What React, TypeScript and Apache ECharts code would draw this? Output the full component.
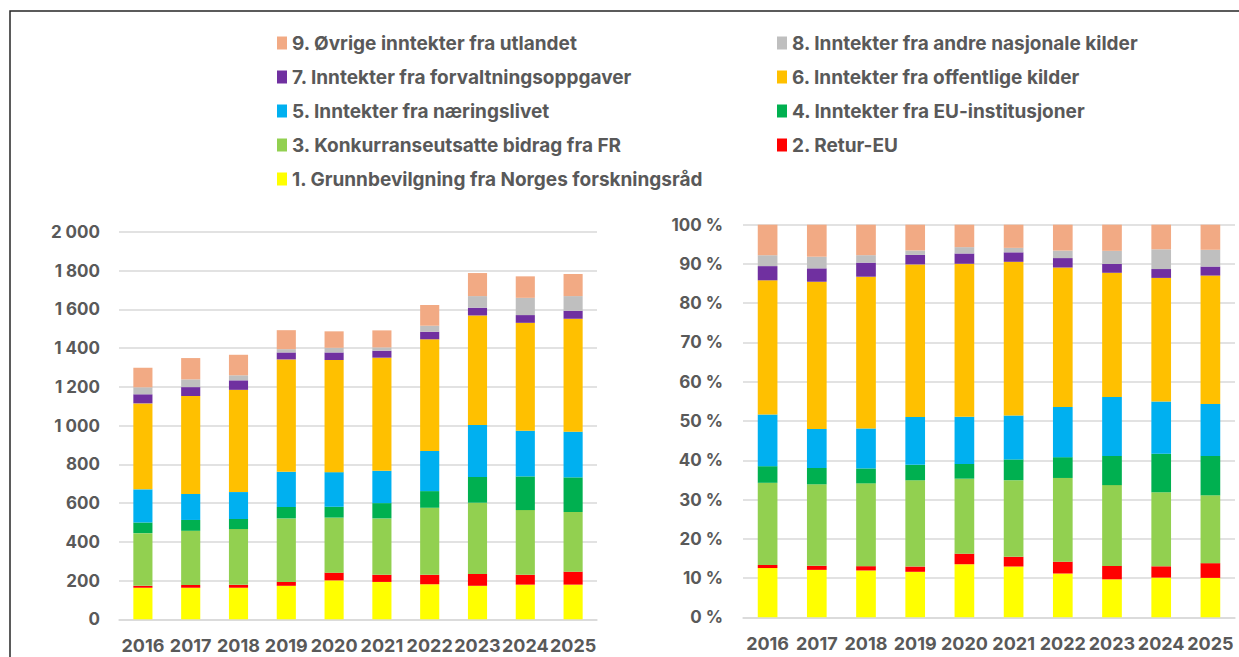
import React, { useEffect, useRef } from "react";
import * as echarts from "echarts";

const years = ["2016", "2017", "2018", "2019", "2020", "2021", "2022", "2023", "2024", "2025"];

const names = [
  "1. Grunnbevilgning fra Norges forskningsråd",
  "2. Retur-EU",
  "3. Konkurranseutsatte bidrag fra FR",
  "4. Inntekter fra EU-institusjoner",
  "5. Inntekter fra næringslivet",
  "6. Inntekter fra offentlige kilder",
  "7. Inntekter fra forvaltningsoppgaver",
  "8. Inntekter fra andre nasjonale kilder",
  "9. Øvrige inntekter fra utlandet",
];

const grunnbevilgning = [163, 163, 163, 173, 201, 193, 181, 173, 179, 179];
const returEU = [10, 14, 15, 20, 40, 37, 49, 61, 51, 67];
const konkurranse = [272, 280, 288, 328, 284, 291, 346, 368, 334, 308];
const euInst = [55, 56, 52, 59, 56, 79, 86, 133, 174, 179];
const naeringsliv = [171, 134, 139, 182, 179, 167, 207, 268, 236, 236];
const offentlige = [444, 506, 528, 580, 579, 584, 577, 566, 557, 583];
const forvaltning = [47, 46, 49, 36, 39, 36, 39, 40, 40, 41];
const andreNasjonale = [36, 40, 26, 17, 24, 17, 31, 60, 89, 76];
const utlandet = [101, 110, 106, 98, 85, 88, 107, 119, 111, 114];

const leftTicks = [0, 200, 400, 600, 800, 1000, 1200, 1400, 1600, 1800, 2000];

const colors = ["#FFFF00", "#FF0000", "#92D050", "#00B050", "#00B0F0", "#FFC000", "#7030A0", "#BFBFBF", "#F2AA84"];

const allSeries = [grunnbevilgning, returEU, konkurranse, euInst, naeringsliv, offentlige, forvaltning, andreNasjonale, utlandet];

const FONT = "Inter, 'Liberation Sans', Arial, sans-serif";
const TXT = "#595959";

export default function App() {
  const ref = useRef<HTMLDivElement>(null);
  useEffect(() => {
    if (!ref.current) return;
    const chart = echarts.init(ref.current, undefined, { renderer: "svg" });
    const totals = years.map((_, j) => allSeries.reduce((s, arr) => s + arr[j], 0));
    const pct = allSeries.map((arr) => arr.map((v, j) => (v / totals[j]) * 100));

    const barSeries: any[] = [];
    allSeries.forEach((arr, i) => {
      barSeries.push({
        name: names[i],
        type: "bar",
        stack: "abs",
        xAxisIndex: 0,
        yAxisIndex: 0,
        barWidth: "40%",
        itemStyle: { color: colors[i] },
        data: arr,
      });
    });
    pct.forEach((arr, i) => {
      barSeries.push({
        name: names[i],
        type: "bar",
        stack: "pct",
        xAxisIndex: 1,
        yAxisIndex: 1,
        barWidth: "40%",
        itemStyle: { color: colors[i] },
        data: arr,
      });
    });

    const legendCommon = {
      orient: "vertical",
      icon: "rect",
      itemWidth: 10,
      itemHeight: 13,
      itemGap: 14,
      selectedMode: false,
      textStyle: { color: TXT, fontSize: 19, fontWeight: "bold", fontFamily: FONT, lineHeight: 20 },
    };

    const xAxisCommon = {
      type: "category",
      data: years,
      axisTick: { show: false },
      axisLine: { show: true, lineStyle: { color: "#D9D9D9", width: 1.5 } },
      axisLabel: { color: TXT, fontSize: 18, fontWeight: "bold", fontFamily: FONT, margin: 17, interval: 0 },
    };

    const yAxisCommon = {
      type: "value",
      axisLine: { show: false },
      axisTick: { show: false },
      splitLine: { lineStyle: { color: "#D9D9D9", width: 1.5 } },
    };

    chart.setOption({
      animation: false,
      backgroundColor: "#ffffff",
      legend: [
        { ...legendCommon, left: 272, top: 28, data: [names[8], names[6], names[4], names[2], names[0]] },
        { ...legendCommon, left: 772, top: 28, data: [names[7], names[5], names[3], names[1]] },
      ],
      grid: [
        { left: 119, right: 642, top: 232, bottom: 37.7 },
        { left: 743, right: 4, top: 224.7, bottom: 39.7 },
      ],
      xAxis: [
        { ...xAxisCommon, gridIndex: 0 },
        { ...xAxisCommon, gridIndex: 1 },
      ],
      yAxis: [
        {
          ...yAxisCommon,
          gridIndex: 0,
          min: leftTicks[0],
          max: leftTicks[leftTicks.length - 1],
          interval: 200,
          axisLabel: {
            color: TXT,
            fontSize: 17,
            fontWeight: "bold",
            fontFamily: FONT,
            margin: 19,
            formatter: (v: number) =>
              v >= 1000 ? `${Math.floor(v / 1000)}\u00a0${String(v % 1000).padStart(3, "0")}` : String(v),
          },
        },
        {
          ...yAxisCommon,
          gridIndex: 1,
          min: 0,
          max: 100,
          interval: 10,
          axisLabel: {
            color: TXT,
            fontSize: 17,
            fontWeight: "bold",
            fontFamily: FONT,
            margin: 20,
            formatter: "{value}\u00a0%",
          },
        },
      ],
      graphic: [
        {
          type: "rect",
          silent: true,
          shape: { x: 10, y: 11, width: 1260, height: 700 },
          style: { fill: "none", stroke: "#262626", lineWidth: 1.5 },
        },
      ],
      series: barSeries,
    });
    return () => chart.dispose();
  }, []);
  return (
    <div
      ref={ref}
      style={{ position: "fixed", left: 0, top: 0, width: 1239, height: 657, background: "#fff" }}
    />
  );
}
